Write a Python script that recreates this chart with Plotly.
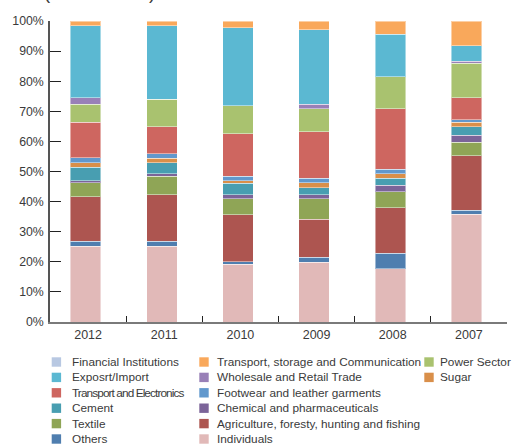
import plotly.graph_objects as go

# Loan portfolio composition by sector, share of total (%)
years = ["2012", "2011", "2010", "2009", "2008", "2007"]

individuals = [25.1, 25.1, 19.2, 19.9, 17.7, 35.8]
others = [1.7, 1.7, 0.8, 1.6, 5.2, 1.4]
agriculture = [14.8, 15.5, 15.6, 12.6, 15.1, 18.0]
textile = [4.7, 6.2, 5.3, 6.8, 5.2, 4.5]
chemical = [0.6, 0.7, 1.4, 1.4, 2.2, 2.3]
cement = [4.5, 3.7, 3.8, 2.3, 2.3, 2.9]
sugar = [1.5, 1.5, 0.8, 1.6, 1.5, 1.4]
footwear = [1.6, 1.5, 1.6, 1.5, 1.5, 0.9]
transport_electronics = [11.8, 9.0, 14.1, 15.5, 20.2, 7.3]
power_sector = [6.1, 9.1, 9.2, 7.6, 10.5, 11.4]
wholesale = [2.1, 0.0, 0.0, 1.5, 0.0, 0.7]
export_import = [23.9, 24.4, 26.0, 24.8, 14.2, 5.2]
transport_storage = [1.6, 1.6, 2.2, 2.9, 4.4, 8.2]
financial = [0.0, 0.0, 0.0, 0.0, 0.0, 0.0]

y_tick_values = [0, 10, 20, 30, 40, 50, 60, 70, 80, 90, 100]
y_tick_labels = ["0%", "10%", "20%", "30%", "40%", "50%",
                 "60%", "70%", "80%", "90%", "100%"]

# Stack order, bottom to top: (label, values, colour)
series = [
    ("Individuals", individuals, "#E1B9B8"),
    ("Others", others, "#4F7EAF"),
    ("Agriculture, foresty, hunting and fishing", agriculture, "#AD5550"),
    ("Textile", textile, "#8FA556"),
    ("Chemical and pharmaceuticals", chemical, "#7B6499"),
    ("Cement", cement, "#489EB1"),
    ("Sugar", sugar, "#D98F4A"),
    ("Footwear and leather garments", footwear, "#6198CD"),
    ("Transport and Electronics", transport_electronics, "#CE6660"),
    ("Power Sector", power_sector, "#A9C26F"),
    ("Wholesale and Retail Trade", wholesale, "#9980B7"),
    ("Exposrt/Import", export_import, "#5BB8D2"),
    ("Transport, storage and Communication", transport_storage, "#F9A85B"),
    ("Financial Institutions", financial, "#B8C8E2"),
]
colours = {name: col for name, _, col in series}

# Legend columns, top to bottom
legend_columns = [
    ["Financial Institutions", "Exposrt/Import", "Transport and Electronics",
     "Cement", "Textile", "Others"],
    ["Transport, storage and Communication", "Wholesale and Retail Trade",
     "Footwear and leather garments", "Chemical and pharmaceuticals",
     "Agriculture, foresty, hunting and fishing", "Individuals"],
    ["Power Sector", "Sugar"],
]

W, H = 524, 446
M_L, M_R, M_T, M_B = 50, 17, 21, 124
PW, PH = W - M_L - M_R, H - M_T - M_B


def px_x(px):
    return (px - M_L) / PW


def px_y(py):
    return (H - M_B - py) / PH


fig = go.Figure()
for name, vals, col in series:
    fig.add_trace(go.Bar(
        x=years, y=vals, name=name,
        width=0.40, offset=-0.232,
        marker=dict(color=col,
                    line=dict(color="rgba(255,255,255,0.45)",
                              width=0 if name == "Financial Institutions" else 1)),
        showlegend=False,
    ))

FONT = "Liberation Sans, Arial, sans-serif"
TEXT_COL = "#3a3a3a"
LEG_SIZE = 11.8

shapes = []
annotations = []
col_marker_x = [51.7, 199.3, 424.3]
col_text_gap = [18.2, 15.6, 13.4]
row0, row_step, sq = 362.0, 15.4, 9.4
for ci, names in enumerate(legend_columns):
    for ri, name in enumerate(names):
        cy = row0 + ri * row_step
        x0 = col_marker_x[ci]
        shapes.append(dict(
            type="rect", xref="paper", yref="paper",
            x0=px_x(x0), x1=px_x(x0 + sq),
            y0=px_y(cy + sq / 2), y1=px_y(cy - sq / 2),
            fillcolor=colours[name], line=dict(width=0), layer="above",
        ))
        label = name
        if name == "Transport and Electronics":
            # this entry is set in a condensed style
            label = '<span style="letter-spacing:-0.9px">' + name + "</span>"
        annotations.append(dict(
            text=label, xref="paper", yref="paper",
            x=px_x(x0 + col_text_gap[ci]), y=px_y(cy),
            xanchor="left", yanchor="middle", showarrow=False,
            font=dict(family=FONT, size=LEG_SIZE, color=TEXT_COL),
        ))

# Period heading above the plot
annotations.append(dict(
    text="(2007 - 2012)", xref="paper", yref="paper",
    x=px_x(99), y=px_y(4.5), xanchor="center", yanchor="bottom",
    showarrow=False, font=dict(family=FONT, size=18.5, color=TEXT_COL),
))

fig.update_layout(
    width=W, height=H,
    margin=dict(l=M_L, r=M_R, t=M_T, b=M_B, pad=0),
    barmode="stack",
    plot_bgcolor="white", paper_bgcolor="white",
    font=dict(family=FONT, size=12.3, color=TEXT_COL),
    shapes=shapes, annotations=annotations,
    showlegend=False,
)
fig.update_xaxes(
    type="category", categoryorder="array", categoryarray=years,
    range=[-0.5, 5.5], tickson="boundaries",
    ticks="inside", ticklen=6, tickwidth=1.3, tickcolor="#222",
    showline=True, linecolor="#7a7a7a", linewidth=2,
    showgrid=False, zeroline=False,
    tickfont=dict(size=12.5, color=TEXT_COL),
)
fig.update_yaxes(
    range=[0, 100], tickmode="array",
    tickvals=y_tick_values, ticktext=y_tick_labels,
    ticks="inside", ticklen=11, tickwidth=1.3, tickcolor="#222",
    showline=True, linecolor="#555", linewidth=1.5,
    showgrid=False, zeroline=False, ticklabelstandoff=2,
    tickfont=dict(size=12.3, color=TEXT_COL),
)

fig.write_html("out.html")
